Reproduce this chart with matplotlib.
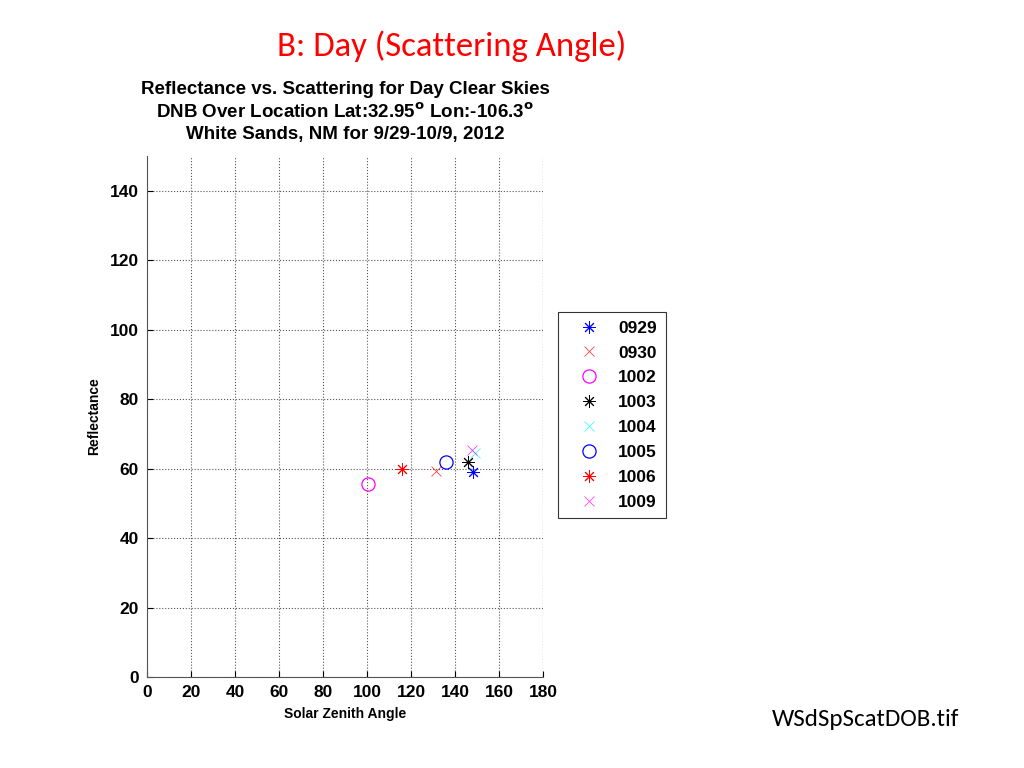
import matplotlib.pyplot as plt

# ---- data ----
dates = ["0929", "0930", "1002", "1003", "1004", "1005", "1006", "1009"]
zenith = [148.3, 131.2, 100.6, 146.0, 149.0, 135.9, 116.0, 147.6]
reflect = [59.0, 59.3, 55.5, 61.9, 64.5, 62.0, 59.9, 65.4]
colors = ["blue", "red", "magenta", "black", "cyan", "blue", "red", "magenta"]
markers = ["star", "x", "o", "star", "x", "o", "star", "x"]

xticks = list(range(0, 181, 20))
yticks = list(range(0, 141, 20))

plt.rcParams["font.family"] = ["Liberation Sans", "DejaVu Sans"]

fig = plt.figure(figsize=(10.24, 7.68), dpi=100)
ax = fig.add_axes([0.1436, 0.1185, 0.3867, 0.6784])

for d, x, y, c, m in zip(dates, zenith, reflect, colors, markers):
    if m == "star":
        ax.plot(x, y, linestyle="none", marker=(8, 2, 0), markersize=9,
                color=c, markeredgewidth=0.7, label=d)
    elif m == "x":
        ax.plot(x, y, linestyle="none", marker="x", markersize=6.5,
                color=c, markeredgewidth=0.6, alpha=0.75, label=d)
    else:
        ax.plot(x, y, linestyle="none", marker="o", markersize=9.5,
                markerfacecolor="none", markeredgecolor=c,
                markeredgewidth=0.9, label=d)

ax.set_xlim(0, 180)
ax.set_ylim(0, 150)
ax.set_xticks(xticks)
ax.set_yticks(yticks)
ax.tick_params(direction="in", length=4, width=0.8, labelsize=12.5, pad=6)
for lab in ax.get_xticklabels() + ax.get_yticklabels():
    lab.set_fontweight("bold")
ax.grid(True, linestyle=":", color="#555555", linewidth=0.8)
# grid line at the right edge (no box)
ax.axvline(180, linestyle=":", color="#555555", linewidth=0.8)
ax.spines["top"].set_visible(False)
ax.spines["right"].set_visible(False)
ax.spines["left"].set_color("#555555")
ax.spines["bottom"].set_color("#555555")

ax.set_xlabel("Solar Zenith Angle", fontsize=10, fontweight="bold", labelpad=5)
ax.set_ylabel("Reflectance", fontsize=10, fontweight="bold", labelpad=6)

title = ("Reflectance vs. Scattering for Day Clear Skies\n"
         r"DNB Over Location Lat:32.95$^{\mathbf{o}}$ Lon:-106.3$^{\mathbf{o}}$" "\n"
         "White Sands, NM for 9/29-10/9, 2012")
ax.set_title(title, fontsize=13.5, fontweight="bold", pad=12, linespacing=1.3)

leg = fig.legend(loc="upper left", bbox_to_anchor=(0.545, 0.594),
                 prop={"size": 12.5, "weight": "bold"}, frameon=True,
                 fancybox=False, edgecolor="black",
                 handletextpad=0.36, borderpad=0.5, labelspacing=0.56,
                 handlelength=2.6, borderaxespad=0)
leg.get_frame().set_linewidth(0.8)

fig.text(0.441, 0.94, "B: Day (Scattering Angle)", color="red", fontsize=25,
         ha="center", va="center", family=["Carlito", "Liberation Sans", "DejaVu Sans"])
fig.text(0.845, 0.063, "WSdSpScatDOB.tif", color="black", fontsize=18,
         ha="center", va="center", family=["Carlito", "Liberation Sans", "DejaVu Sans"])

fig.savefig("out.png", dpi=100)
